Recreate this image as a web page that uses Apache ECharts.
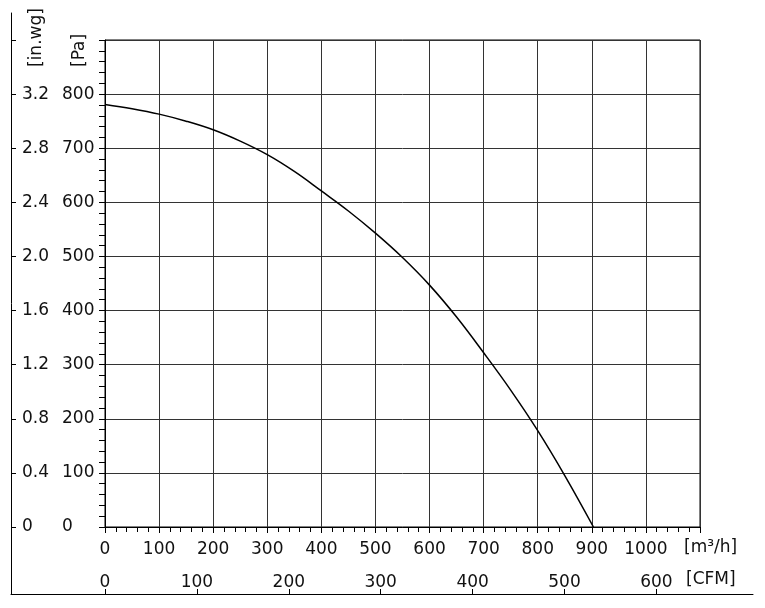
<!DOCTYPE html>
<html>
<head>
<meta charset="utf-8">
<script src="https://cdn.jsdelivr.net/npm/echarts@6/dist/echarts.min.js"></script>
<style>
  html, body { margin: 0; padding: 0; background: #fff; }
  #fanCurve { width: 765px; height: 608px; }
</style>
</head>
<body>
<div id="fanCurve"></div>
<script>
// fan curve: airflow [m3/h] -> static pressure [Pa]
const flowM3h = [0, 50, 100, 150, 200, 250, 300, 350, 400, 450, 500, 550, 600, 650, 700, 750, 800, 850, 903];
const pressurePa = [781, 773, 763, 750, 734, 713, 688, 657, 621, 584, 543, 498, 447, 388, 322, 253, 178, 95, 0];

// tick labels
const flowLabels = [0, 100, 200, 300, 400, 500, 600, 700, 800, 900, 1000];
const paLabels = [0, 100, 200, 300, 400, 500, 600, 700, 800];
const inwgTicks = [0, 0.4, 0.8, 1.2, 1.6, 2.0, 2.4, 2.8, 3.2, 3.6];
const inwgLabels = [0, 0.4, 0.8, 1.2, 1.6, 2.0, 2.4, 2.8, 3.2];
const cfmTicks = [0, 100, 200, 300, 400, 500, 600];

const M3H_PER_CFM = 1.699;
const PA_PER_INWG = 250;   // chart puts 0.4 in.wg on the 100 Pa lines

// layout (px)
const plot = { left: 105, top: 40, width: 595, height: 487 };
const frame = { left: 11, top: 13, right: 753, bottom: 594 };
const FLOW_MAX = 1100, PA_MAX = 900;

// outer axes share the inner scale, so work out their ranges from the layout
const pxPerFlow = plot.width / FLOW_MAX;
const pxPerPa = plot.height / PA_MAX;
const plotBottom = plot.top + plot.height;
const cfmMin = (frame.left - plot.left) / pxPerFlow / M3H_PER_CFM;
const cfmMax = (frame.right - plot.left) / pxPerFlow / M3H_PER_CFM;
const inwgMin = -(frame.bottom - plotBottom) / pxPerPa / PA_PER_INWG;
const inwgMax = (plotBottom - frame.top) / pxPerPa / PA_PER_INWG;

const FONT = 'DejaVu Sans';
const TXT = '#111';
const labelStyle = { color: TXT, fontFamily: FONT, fontSize: 17 };

const chart = echarts.init(document.getElementById('fanCurve'), null, { renderer: 'canvas' });

const option = {
    backgroundColor: '#fff',
    animation: false,
    grid: [
        { left: plot.left, top: plot.top, width: plot.width, height: plot.height,
          show: true, borderColor: '#000', borderWidth: 1, backgroundColor: 'transparent' },
        { left: frame.left, top: frame.top, width: frame.right - frame.left, height: frame.bottom - frame.top,
          show: false }
    ],
    xAxis: [
        {
            gridIndex: 0, type: 'value', min: 0, max: FLOW_MAX, interval: 100,
            axisLine: { onZero: false, lineStyle: { color: '#000', width: 1 } },
            axisTick: { length: 6, lineStyle: { color: '#000' } },
            minorTick: { show: true, splitNumber: 5, length: 5, lineStyle: { color: '#000' } },
            splitLine: { show: true, lineStyle: { color: '#333', width: 1 } },
            axisLabel: Object.assign({ customValues: flowLabels, margin: 14, formatter: v => String(v) }, labelStyle)
        },
        {
            gridIndex: 1, type: 'value', min: cfmMin, max: cfmMax, position: 'bottom',
            axisLine: { onZero: false, lineStyle: { color: '#000', width: 1 } },
            axisTick: { inside: true, length: 5, customValues: cfmTicks, lineStyle: { color: '#000' } },
            splitLine: { show: false },
            axisLabel: Object.assign({ inside: true, customValues: cfmTicks, margin: 3, formatter: v => String(v) }, labelStyle)
        }
    ],
    yAxis: [
        {
            gridIndex: 0, type: 'value', min: 0, max: PA_MAX, interval: 100,
            axisLine: { show: true, onZero: false, lineStyle: { color: '#000', width: 1 } },
            axisTick: { show: true, length: 6, lineStyle: { color: '#000' } },
            minorTick: { show: true, splitNumber: 5, length: 6, lineStyle: { color: '#000' } },
            splitLine: { show: true, lineStyle: { color: '#333', width: 1 } },
            axisLabel: Object.assign({ customValues: paLabels, margin: 43, align: 'left', padding: [3, 0, 0, 0] }, labelStyle)
        },
        {
            gridIndex: 1, type: 'value', min: inwgMin, max: inwgMax, position: 'left',
            axisLine: { show: true, onZero: false, lineStyle: { color: '#000', width: 1 } },
            axisTick: { show: true, inside: true, length: 5, customValues: inwgTicks, lineStyle: { color: '#000' } },
            splitLine: { show: false },
            axisLabel: Object.assign({
                inside: true, customValues: inwgLabels, margin: 11, align: 'left', padding: [3, 0, 0, 0],
                formatter: v => (v === 0 ? '0' : v.toFixed(1))
            }, labelStyle)
        }
    ],
    series: [
        {
            type: 'line',
            xAxisIndex: 0,
            yAxisIndex: 0,
            data: flowM3h.map((q, i) => [q, pressurePa[i]]),
            smooth: 0.4,
            showSymbol: false,
            lineStyle: { color: '#000', width: 1.5 }
        }
    ],
    // unit names
    graphic: [
        { type: 'text', x: 37, y: 67, rotation: Math.PI / 2,
          style: { text: '[in.wg]', align: 'left', verticalAlign: 'middle', fill: TXT, fontFamily: FONT, fontSize: 17 } },
        { type: 'text', x: 80, y: 67, rotation: Math.PI / 2,
          style: { text: '[Pa]', align: 'left', verticalAlign: 'middle', fill: TXT, fontFamily: FONT, fontSize: 17 } },
        { type: 'text', x: 684, y: 548,
          style: { text: '[m³/h]', align: 'left', verticalAlign: 'middle', fill: TXT, fontFamily: FONT, fontSize: 17 } },
        { type: 'text', x: 686, y: 580,
          style: { text: '[CFM]', align: 'left', verticalAlign: 'middle', fill: TXT, fontFamily: FONT, fontSize: 17 } }
    ]
};

chart.setOption(option);
</script>
</body>
</html>
